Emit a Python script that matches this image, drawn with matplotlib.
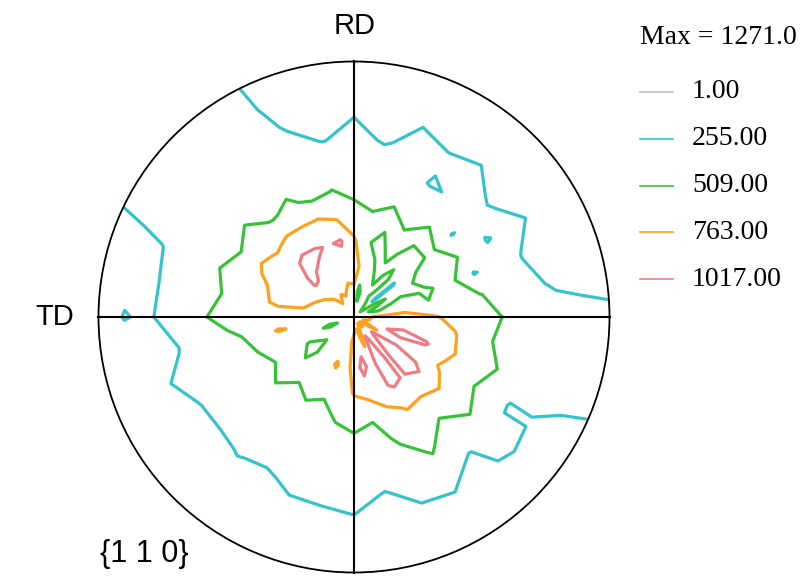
## load libraries
import numpy as np
import matplotlib
matplotlib.use('Agg')
import matplotlib.pyplot as plt
from matplotlib.patches import Circle
from matplotlib.lines import Line2D

## contour levels and legend text
levels = [1.00, 255.00, 509.00, 763.00, 1017.00]
level_labels = ['1.00', '255.00', '509.00', '763.00', '1017.00']
level_colors = ['#BDBDBD', '#33C5CB', '#38C238', '#FFA11F', '#F27A82']
max_text = 'Max = 1271.0'

## polar grid: radius (0 = centre, 1 = rim), azimuth in degrees from the right, counter-clockwise
radii = [0.0, 0.1, 0.2, 0.3, 0.4, 0.5, 0.6, 0.7, 0.8, 0.9, 1.0, 1.1]
azimuth = list(range(0, 360, 10))

# intensity along each azimuth, one value per radius
az000 = [640, 820, 880, 800, 700, 605, 485, 380, 330, 320, 310, 300]
az010 = [640, 560, 650, 520, 600, 520, 400, 290, 230, 200, 170, 130]
az020 = [640, 420, 580, 480, 580, 240, 350, 250, 230, 190, 170, 130]
az030 = [640, 600, 380, 580, 590, 470, 245, 300, 240, 200, 170, 130]
az040 = [640, 220, 240, 460, 540, 245, 320, 240, 220, 200, 170, 130]
az050 = [640, 450, 600, 380, 580, 460, 270, 300, 240, 190, 160, 130]
az060 = [640, 580, 420, 620, 500, 420, 240, 280, 220, 180, 150, 130]
az070 = [640, 620, 560, 430, 580, 460, 350, 300, 250, 190, 150, 130]
az080 = [640, 430, 720, 540, 530, 420, 340, 240, 220, 200, 160, 130]
az090 = [640, 740, 820, 800, 580, 460, 380, 300, 245, 200, 160, 130]
az100 = [640, 680, 920, 1040, 720, 515, 400, 250, 230, 200, 160, 130]
az110 = [640, 780, 900, 1000, 790, 450, 380, 300, 240, 190, 150, 130]
az120 = [640, 760, 960, 1040, 780, 550, 420, 370, 340, 320, 310, 300]
az130 = [640, 820, 1000, 1060, 800, 490, 430, 380, 340, 320, 310, 300]
az140 = [640, 740, 1040, 980, 740, 580, 460, 390, 340, 320, 310, 300]
az150 = [640, 700, 880, 990, 820, 520, 410, 370, 330, 320, 310, 300]
az160 = [640, 620, 840, 860, 700, 580, 460, 340, 250, 220, 190, 150]
az170 = [640, 740, 760, 820, 660, 540, 420, 300, 240, 230, 180, 140]
az180 = [640, 540, 640, 540, 620, 600, 480, 330, 240, 260, 200, 150]
az190 = [640, 620, 700, 790, 560, 450, 350, 250, 230, 200, 160, 130]
az200 = [640, 450, 660, 520, 510, 400, 330, 280, 240, 190, 150, 130]
az210 = [640, 640, 500, 580, 450, 380, 300, 250, 250, 180, 150, 130]
az220 = [640, 540, 460, 560, 510, 380, 330, 240, 220, 170, 140, 120]
az230 = [640, 720, 590, 550, 430, 360, 280, 260, 210, 170, 140, 120]
az240 = [640, 560, 670, 570, 490, 390, 320, 240, 230, 180, 140, 120]
az250 = [640, 620, 790, 560, 440, 380, 300, 280, 220, 180, 140, 120]
az260 = [640, 710, 640, 630, 530, 420, 350, 260, 250, 190, 150, 130]
az270 = [640, 820, 860, 780, 570, 460, 370, 300, 240, 200, 160, 130]
az280 = [640, 900, 1100, 860, 530, 420, 330, 250, 240, 200, 160, 130]
az290 = [640, 720, 900, 940, 700, 545, 425, 300, 240, 190, 150, 130]
az300 = [640, 1080, 1150, 1060, 790, 640, 530, 410, 240, 200, 160, 130]
az310 = [640, 880, 960, 1000, 780, 530, 410, 250, 240, 190, 150, 130]
az320 = [640, 1060, 1200, 1100, 840, 620, 500, 300, 270, 190, 150, 130]
az330 = [640, 760, 920, 880, 730, 560, 440, 240, 250, 200, 160, 130]
az340 = [640, 980, 1080, 1040, 800, 630, 505, 370, 330, 320, 310, 300]
az350 = [640, 840, 960, 860, 780, 570, 450, 390, 340, 320, 310, 300]

profiles = [az000, az010, az020, az030, az040, az050, az060, az070, az080,
            az090, az100, az110, az120, az130, az140, az150, az160, az170,
            az180, az190, az200, az210, az220, az230, az240, az250, az260,
            az270, az280, az290, az300, az310, az320, az330, az340, az350]

# close the grid at 360 deg
Z = np.array(profiles + [profiles[0]], dtype=float)
theta = np.deg2rad(azimuth + [360])
T, Rr = np.meshgrid(theta, radii, indexing='ij')
X = Rr * np.cos(T)
Y = Rr * np.sin(T)

## figure
fig = plt.figure(figsize=(8, 5.8), dpi=100)
W, H = 800.0, 580.0
cx, cy, scale = 354.0, 317.0, 255.5   # pixel centre and radius of the net
lim = 1.05
ax = fig.add_axes([(cx - lim * scale) / W, (H - cy - lim * scale) / H,
                   2 * lim * scale / W, 2 * lim * scale / H])
ax.set_xlim(-lim, lim)
ax.set_ylim(-lim, lim)
ax.axis('off')

cs = ax.contour(X, Y, Z, levels=levels, colors=level_colors, linewidths=2.3)
rim = Circle((0, 0), 1.0, transform=ax.transData, facecolor='none', edgecolor='none')
ax.add_patch(rim)
cs.set_clip_path(rim)

# outline and cross
ax.add_patch(Circle((0, 0), 1.0, facecolor='none', edgecolor='black', linewidth=1.3, zorder=5))
ax.plot([-1, 1], [0, 0], color='black', linewidth=1.5, zorder=6)
ax.plot([0, 0], [-1, 1], color='black', linewidth=1.5, zorder=6)

# labels
sans = 'Liberation Sans'
serif = 'Liberation Serif'
fig.text(354.5 / W, 1 - 26 / H, 'RD', fontsize=21, family=sans, ha='center', va='center')
fig.text(55 / W, 1 - 317 / H, 'TD', fontsize=21, family=sans, ha='center', va='center')
fig.text(144 / W, 1 - 554 / H, '{1 1 0}', fontsize=22, family=sans, ha='center', va='center')

# legend
fig.text(640 / W, 1 - 38 / H, max_text, fontsize=20, family=serif, ha='left', va='center')
for i, (lab, col) in enumerate(zip(level_labels, level_colors)):
    yy = 1 - (92 + i * 46.8) / H
    fig.add_artist(Line2D([640 / W, 673 / W], [yy, yy], color=col, linewidth=1.2,
                          transform=fig.transFigure))
    fig.text(692 / W, yy, lab, fontsize=20, family=serif, ha='left', va='center')

fig.savefig('out.png', dpi=100)
